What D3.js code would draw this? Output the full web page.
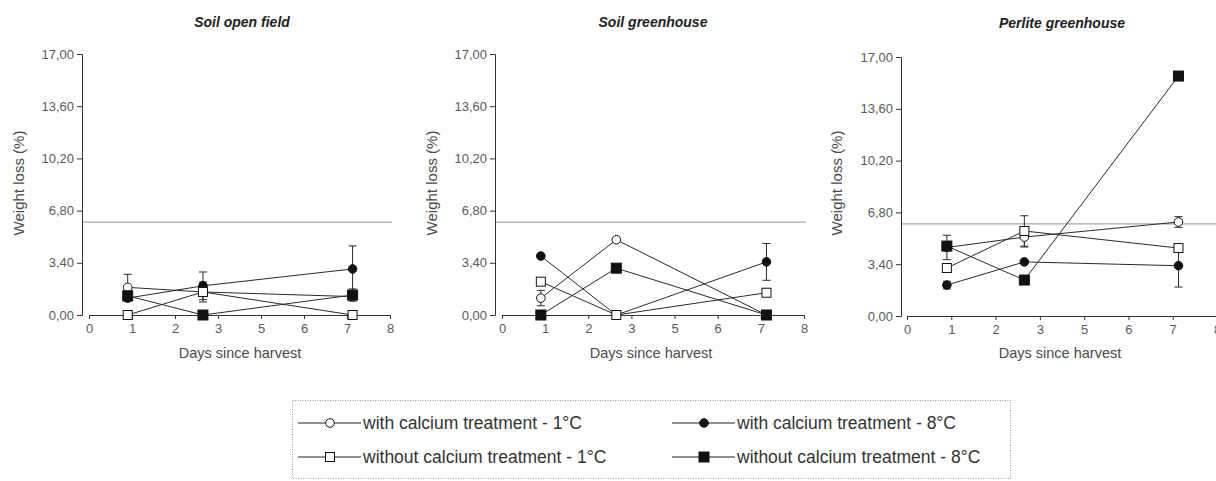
<!DOCTYPE html>
<html><head><meta charset="utf-8">
<script src="https://cdn.jsdelivr.net/npm/d3@7"></script>
<style>
body{margin:0;background:#fff;}
svg{display:block;font-family:"Liberation Sans",Arial,sans-serif;}
</style></head>
<body><svg id="c" width="1216" height="481"></svg>
<script>
// ---- data ----
const panelTitles = ["Soil open field", "Soil greenhouse", "Perlite greenhouse"];
const xTickLabels = ["0","1","2","3","5","6","7","8"];
const sampleDayPos = [0.9, 2.65, 6.13]; // positions on the tick-index axis
const yTicks = [0, 3.4, 6.8, 10.2, 13.6, 17];
const refLine = 6.05;
const seriesNames = ["with calcium treatment - 1°C","with calcium treatment - 8°C","without calcium treatment - 1°C","without calcium treatment - 8°C"];
const seriesShapes = ["circle","circle","square","square"];
const seriesFilled = [false,true,false,true];

// panel 1: Soil open field
const p1_withCa1 = [1.8, 1.5, 1.2],  p1_withCa1_err = [0.85, 0.65, 0.2];
const p1_withCa8 = [1.1, 1.9, 3.0],  p1_withCa8_err = [0.2, 0.9, 1.5];
const p1_noCa1   = [0, 1.5, 0],      p1_noCa1_err   = [0, 0.3, 0];
const p1_noCa8   = [1.25, 0, 1.3],   p1_noCa8_err   = [0.2, 0, 0.4];
// panel 2: Soil greenhouse
const p2_withCa1 = [1.1, 4.9, 0],    p2_withCa1_err = [0.5, 0, 0];
const p2_withCa8 = [3.84, 0, 3.46],  p2_withCa8_err = [0, 0, 1.2];
const p2_noCa1   = [2.17, 0, 1.45],  p2_noCa1_err   = [0, 0, 0];
const p2_noCa8   = [0, 3.05, 0],     p2_noCa8_err   = [0, 0, 0];
// panel 3: Perlite greenhouse
const p3_withCa1 = [4.5, 5.18, 6.17], p3_withCa1_err = [0.8, 0.65, 0.35];
const p3_withCa8 = [2.03, 3.55, 3.3], p3_withCa8_err = [0.25, 0, 1.4];
const p3_noCa1   = [3.15, 5.58, 4.46],p3_noCa1_err   = [0, 1.0, 0.2];
const p3_noCa8   = [4.59, 2.36, 15.75],p3_noCa8_err  = [0.1, 0, 0.2];

const panelData = [
  [[p1_withCa1,p1_withCa1_err],[p1_withCa8,p1_withCa8_err],[p1_noCa1,p1_noCa1_err],[p1_noCa8,p1_noCa8_err]],
  [[p2_withCa1,p2_withCa1_err],[p2_withCa8,p2_withCa8_err],[p2_noCa1,p2_noCa1_err],[p2_noCa8,p2_noCa8_err]],
  [[p3_withCa1,p3_withCa1_err],[p3_withCa8,p3_withCa8_err],[p3_noCa1,p3_noCa1_err],[p3_noCa8,p3_noCa8_err]]
];

// ---- layout ----
const layout = [
  {yAxisX:82,  xStart:89,  xEnd:390,  yTop:54, yBottom:315, titleX:242, titleY:27, yLabX:19,  xLabX:240},
  {yAxisX:495, xStart:502, xEnd:804,  yTop:54, yBottom:315, titleX:653, titleY:27, yLabX:432, xLabX:651},
  {yAxisX:901, xStart:907, xEnd:1217, yTop:57, yBottom:316, titleX:1062, titleY:28, yLabX:837, xLabX:1060}
];
const svg = d3.select("#c");
const fmt = d3.formatLocale({decimal:",",thousands:".",grouping:[3],currency:["",""]}).format(".2f");
const lineCol = "#2a2a2a";

function drawMarker(g, shape, filled, x, y){
  if(shape==="circle"){
    g.append("circle").attr("cx",x).attr("cy",y).attr("r",4.3)
      .attr("fill",filled?"#111":"#fff").attr("stroke","#111").attr("stroke-width",1);
  } else {
    const h = filled?5:4.5;
    g.append("rect").attr("x",x-h).attr("y",y-h).attr("width",2*h).attr("height",2*h)
      .attr("fill",filled?"#111":"#fff").attr("stroke","#111").attr("stroke-width",1);
  }
}

layout.forEach((L, pi) => {
  const g = svg.append("g");
  const x = d3.scaleLinear().domain([0,7]).range([L.xStart, L.xEnd]);
  const y = d3.scaleLinear().domain([0,17]).range([L.yBottom, L.yTop]);

  g.append("text").attr("x",L.titleX).attr("y",L.titleY).attr("text-anchor","middle")
    .attr("font-size",14).attr("font-weight","bold").attr("font-style","italic").attr("fill","#222")
    .text(panelTitles[pi]);

  g.append("line").attr("x1",L.yAxisX).attr("x2",Math.min(L.xEnd+2,1216))
    .attr("y1",y(refLine)).attr("y2",y(refLine)).attr("stroke","#a8a8a8").attr("stroke-width",1.2);

  const ya = g.append("g").attr("transform",`translate(${L.yAxisX},0)`)
    .call(d3.axisLeft(y).tickValues(yTicks).tickFormat(fmt).tickSizeOuter(0).tickSize(5).tickPadding(3));
  ya.select(".domain").attr("stroke","#333");
  ya.selectAll(".tick line").attr("stroke","#333");
  ya.selectAll("text").attr("font-size",13).attr("fill","#5a5a5a").attr("font-family","Liberation Sans, Arial, sans-serif");

  const xa = g.append("g").attr("transform",`translate(0,${L.yBottom})`)
    .call(d3.axisBottom(x).tickValues(d3.range(8)).tickFormat(i=>xTickLabels[i]).tickSizeOuter(0).tickSize(4).tickPadding(5));
  xa.select(".domain").attr("stroke","#333");
  xa.selectAll(".tick line").attr("stroke","#333");
  xa.selectAll("text").attr("font-size",13).attr("fill","#5a5a5a").attr("font-family","Liberation Sans, Arial, sans-serif");

  g.append("text").attr("transform",`translate(${L.yLabX},${183}) rotate(-90)`)
    .attr("text-anchor","middle").attr("dy","0.35em").attr("font-size",15).attr("fill","#4a4a4a").text("Weight loss (%)");
  g.append("text").attr("x",L.xLabX).attr("y",358).attr("text-anchor","middle")
    .attr("font-size",14.5).attr("fill","#4a4a4a").text("Days since harvest");

  const mk = g.append("g");
  const line = d3.line().x((d,i)=>x(sampleDayPos[i])).y(d=>y(d));
  panelData[pi].forEach(([vals]) => {
    mk.append("path").attr("d",line(vals)).attr("fill","none").attr("stroke",lineCol).attr("stroke-width",1);
  });
  panelData[pi].forEach(([vals,errs]) => {
    vals.forEach((v,i)=>{
      const e = errs[i]; if(!e) return;
      const cx = x(sampleDayPos[i]);
      mk.append("line").attr("x1",cx).attr("x2",cx).attr("y1",y(v+e)).attr("y2",y(Math.max(0,v-e)))
        .attr("stroke",lineCol).attr("stroke-width",1);
      [v+e, Math.max(0,v-e)].forEach(yy=>{
        mk.append("line").attr("x1",cx-4).attr("x2",cx+4).attr("y1",y(yy)).attr("y2",y(yy))
          .attr("stroke",lineCol).attr("stroke-width",1);
      });
    });
  });
  panelData[pi].forEach(([vals],si) => {
    vals.forEach((v,i)=>drawMarker(mk, seriesShapes[si], seriesFilled[si], x(sampleDayPos[i]), y(v)));
  });
});

// ---- legend ----
const lg = svg.append("g");
lg.append("rect").attr("x",292.5).attr("y",400.5).attr("width",718).attr("height",78)
  .attr("fill","none").attr("stroke","#999").attr("stroke-width",1).attr("stroke-dasharray","1,1.5");
const legPos = [[298,423],[672,423],[298,457],[672,457]];
[0,1,2,3].forEach((si,k)=>{
  const [lx,ly] = legPos[k];
  lg.append("line").attr("x1",lx).attr("x2",lx+63).attr("y1",ly).attr("y2",ly).attr("stroke","#222").attr("stroke-width",1.2);
  drawMarker(lg, seriesShapes[si], seriesFilled[si], lx+32, ly);
  lg.append("text").attr("x",lx+65).attr("y",ly).attr("dy","0.35em").attr("font-size",17.5).attr("fill","#333")
    .text(seriesNames[si]);
});
</script></body></html>
